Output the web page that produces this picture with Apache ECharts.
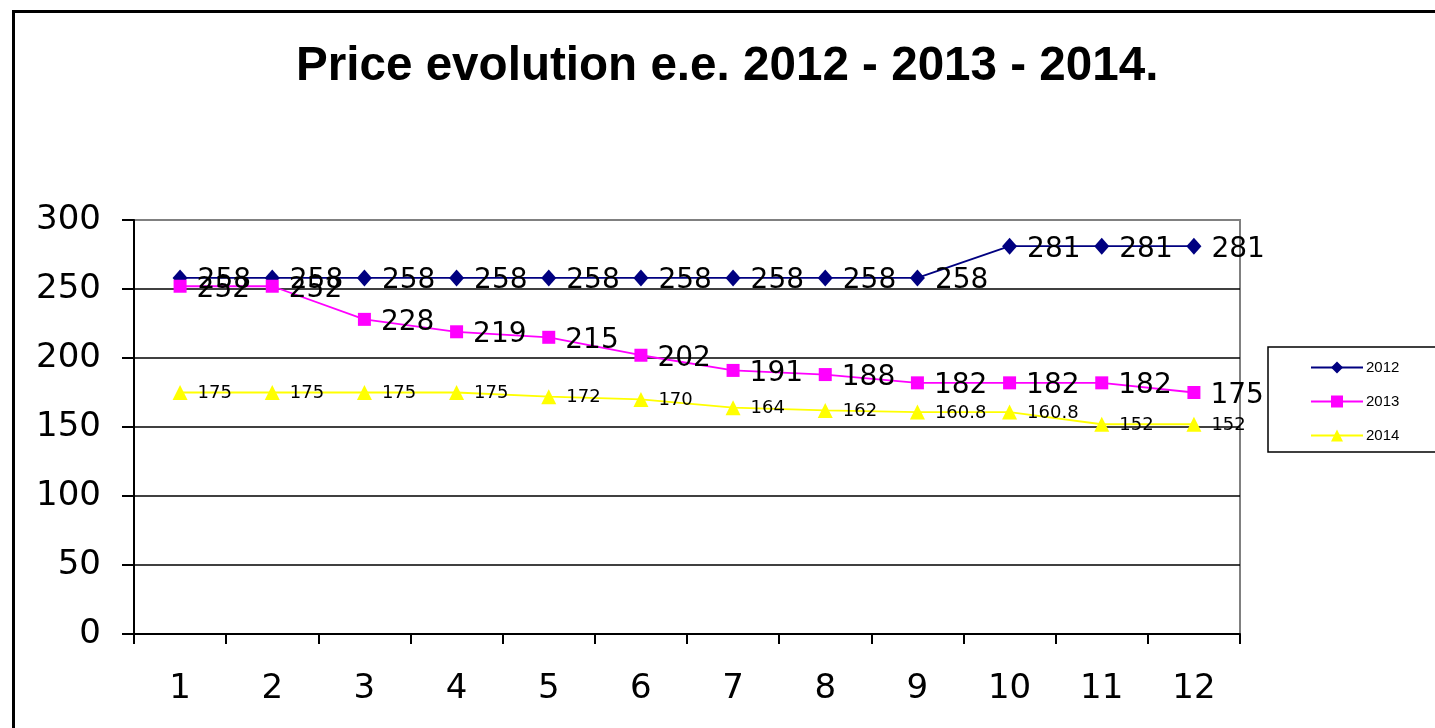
<!DOCTYPE html>
<html>
<head>
<meta charset="utf-8">
<script src="https://cdn.jsdelivr.net/npm/echarts@6/dist/echarts.min.js"></script>
<style>
html,body{margin:0;padding:0;background:#fff;}
#c{width:1435px;height:728px;}
</style>
</head>
<body>
<div id="c"></div>
<script>
const categories = ['1','2','3','4','5','6','7','8','9','10','11','12'];
const s2012 = [258,258,258,258,258,258,258,258,258,281,281,281];
const s2013 = [252,252,228,219,215,202,191,188,182,182,182,175];
const s2014 = [175,175,175,175,172,170,164,162,160.8,160.8,152,152];
const yTicks = [0,50,100,150,200,250,300];

const chart = echarts.init(document.getElementById('c'), null, {renderer:'canvas'});
const font = 'Liberation Sans, Arial, sans-serif';
const wide = 'DejaVu Sans, Liberation Sans, sans-serif';
chart.setOption({
  animation:false,
  backgroundColor:'#fff',
  title:{
    text:'Price evolution e.e. 2012 - 2013 - 2014.',
    left:291, top:38,
    textStyle:{fontFamily:font,fontSize:47.6,fontWeight:'bold',color:'#000'}
  },
  graphic:[{
    type:'rect', left:11, top:9, silent:true,
    shape:{width:1440,height:730},
    style:{fill:'none',stroke:'#000',lineWidth:3}
  }],
  legend:{
    orient:'vertical',
    left:1268, top:347,
    width:180, height:102,
    padding:[13,40,9,42],
    itemGap:19,
    itemWidth:52, itemHeight:15,
    borderColor:'#000', borderWidth:1.5,
    backgroundColor:'#fff',
    textStyle:{fontFamily:font,fontSize:15,color:'#000',padding:[0,0,0,-2]},
    data:['2012','2013','2014']
  },
  grid:{left:134,right:195,top:220,bottom:94,show:true,borderColor:'#808080',borderWidth:2},
  xAxis:{
    type:'category', data:categories, boundaryGap:true,
    axisLine:{lineStyle:{color:'#000',width:2}},
    axisTick:{show:true,length:10,lineStyle:{color:'#000',width:2}},
    axisLabel:{fontFamily:wide,fontSize:34,color:'#000',margin:38}
  },
  yAxis:{
    type:'value', min:yTicks[0], max:yTicks[yTicks.length-1], interval:50,
    axisLine:{show:true,lineStyle:{color:'#000',width:2}},
    axisTick:{show:true,length:12,lineStyle:{color:'#000',width:2}},
    axisLabel:{fontFamily:wide,fontSize:34,color:'#000',margin:33,lineHeight:34,padding:[12,0,0,0]},
    splitLine:{show:true,lineStyle:{color:['#000','#000','#000','#000','#000','#000','#808080'],width:1.5}}
  },
  series:[
    {name:'2012',type:'line',data:s2012,symbol:'diamond',symbolSize:[15,17],
     itemStyle:{color:'#000080'},lineStyle:{color:'#000080',width:1.8},
     label:{show:true,position:'right',distance:10,offset:[0,3],fontFamily:wide,fontSize:28,color:'#000'}},
    {name:'2013',type:'line',data:s2013,symbol:'rect',symbolSize:13,
     itemStyle:{color:'#ff00ff'},lineStyle:{color:'#ff00ff',width:1.8},
     label:{show:true,position:'right',distance:10,offset:[0,3],fontFamily:wide,fontSize:28,color:'#000'}},
    {name:'2014',type:'line',data:s2014,symbol:'triangle',symbolSize:15,
     itemStyle:{color:'#ffff00'},lineStyle:{color:'#ffff00',width:1.8},
     label:{show:true,position:'right',distance:10,offset:[0,1],fontFamily:wide,fontSize:18,color:'#000'}}
  ]
});
</script>
</body>
</html>
